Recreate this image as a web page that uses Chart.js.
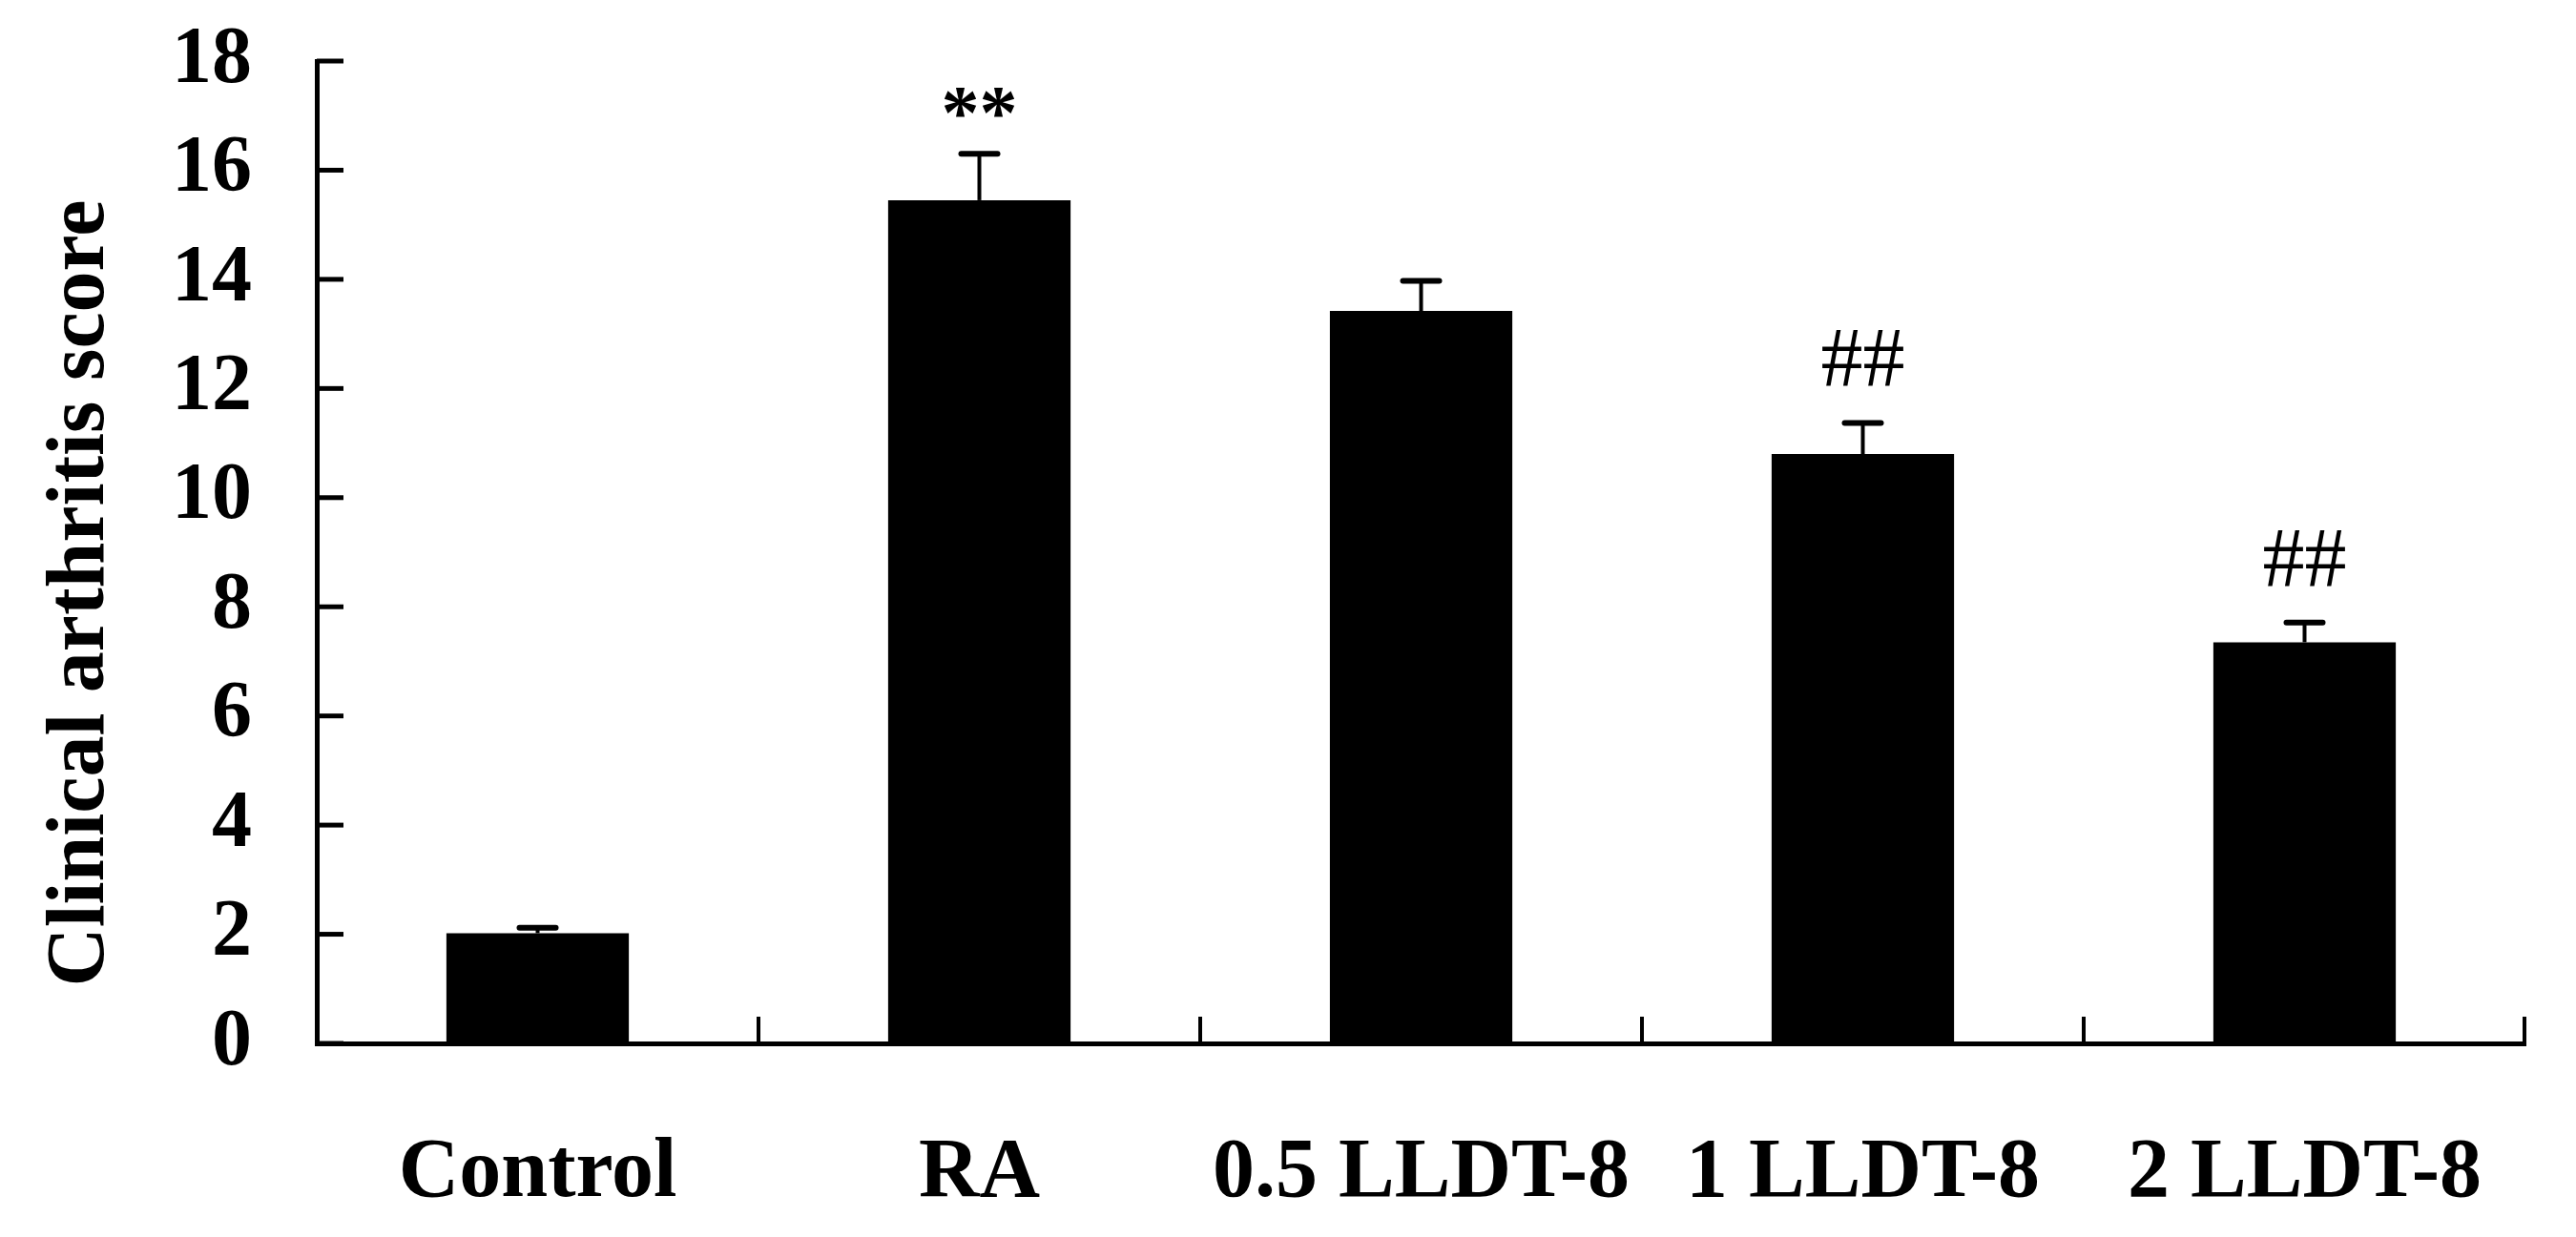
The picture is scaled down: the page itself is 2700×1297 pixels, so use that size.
<!DOCTYPE html>
<html>
<head>
<meta charset="utf-8">
<script src="https://cdn.jsdelivr.net/npm/chart.js@4/dist/chart.umd.min.js"></script>
<style>
html, body { margin: 0; padding: 0; background: #fff; }
#wrap { width: 2700px; height: 1297px; }
</style>
</head>
<body>
<div id="wrap"><canvas id="myChart" width="2700" height="1297"></canvas></div>
<script>
// data
var groups = ["Control", "RA", "0.5 LLDT-8", "1 LLDT-8", "2 LLDT-8"];
var scores = [2.02, 15.45, 13.42, 10.8, 7.35];
var errors = [0.1, 0.85, 0.55, 0.57, 0.36];
var marks = ["", "**", "", "##", "##"];
var yMin = 0, yMax = 18, yStep = 2;

var serif = "'Liberation Serif', 'Times New Roman', serif";

// short inward tick marks on both axes
var tickPlugin = {
    id: "inwardTicks",
    afterDraw: function (chart) {
        var ctx = chart.ctx, area = chart.chartArea;
        var ys = chart.scales.y, xs = chart.scales.x;
        ctx.save();
        ctx.strokeStyle = "#000";
        ctx.lineWidth = 5;
        ctx.lineCap = "butt";
        ys.ticks.forEach(function (t) {
            var y = ys.getPixelForValue(t.value);
            ctx.beginPath();
            ctx.moveTo(area.left, y);
            ctx.lineTo(area.left + 28, y);
            ctx.stroke();
        });
        ctx.lineWidth = 4;
        for (var k = 1; k <= groups.length; k++) {
            var x = k < groups.length
                ? (xs.getPixelForValue(k - 1) + xs.getPixelForValue(k)) / 2
                : area.right - 1;
            ctx.beginPath();
            ctx.moveTo(x, area.bottom);
            ctx.lineTo(x, area.bottom - 28);
            ctx.stroke();
        }
        ctx.restore();
    }
};

// upper error bars + significance marks
var errPlugin = {
    id: "errBars",
    afterDatasetsDraw: function (chart) {
        var ctx = chart.ctx, ys = chart.scales.y;
        var meta = chart.getDatasetMeta(0);
        ctx.save();
        ctx.strokeStyle = "#000";
        ctx.fillStyle = "#000";
        meta.data.forEach(function (bar, i) {
            var capY = ys.getPixelForValue(scores[i] + errors[i]);
            ctx.lineWidth = 4;
            ctx.lineCap = "butt";
            ctx.beginPath();
            ctx.moveTo(bar.x, bar.y);
            ctx.lineTo(bar.x, capY);
            ctx.stroke();
            ctx.lineWidth = 6;
            ctx.lineCap = "round";
            ctx.beginPath();
            ctx.moveTo(bar.x - 19, capY);
            ctx.lineTo(bar.x + 19, capY);
            ctx.stroke();

            if (marks[i]) {
                ctx.font = (marks[i] == "**" ? "bold 80px " : "88px ") + serif;
                ctx.textAlign = "center";
                ctx.textBaseline = "alphabetic";
                var m = ctx.measureText(marks[i]);
                ctx.fillText(marks[i], bar.x, capY - 38 - m.actualBoundingBoxDescent);
            }
        });
        ctx.restore();
    }
};

var totalChart = new Chart("myChart", {
    type: "bar",
    data: {
        labels: groups,
        datasets: [{
            data: scores,
            backgroundColor: "#000",
            borderWidth: 0,
            categoryPercentage: 1,
            barPercentage: 0.413
        }]
    },
    options: {
        responsive: false,
        animation: false,
        devicePixelRatio: 1,
        layout: { padding: { top: 64, right: 53, bottom: 0, left: 0 } },
        plugins: {
            legend: { display: false },
            tooltip: { enabled: false }
        },
        scales: {
            x: {
                // hidden grid, tickLength only pushes the labels down
                grid: { display: false, drawTicks: true, tickLength: 80 },
                border: { display: true, color: "#000", width: 5 },
                ticks: {
                    color: "#000",
                    padding: 4,
                    maxRotation: 0,
                    font: { family: serif, size: 88, weight: "bold" }
                },
                afterFit: function (s) { s.height = 203; }
            },
            y: {
                min: yMin,
                max: yMax,
                grid: { display: false, drawTicks: true, tickLength: 64 },
                border: { display: true, color: "#000", width: 5 },
                ticks: {
                    stepSize: yStep,
                    color: "#000",
                    padding: 4,
                    font: { family: serif, size: 84, weight: "bold" }
                },
                title: {
                    display: true,
                    text: "Clinical arthritis score    ",
                    color: "#000",
                    padding: { top: 34, bottom: 0 },
                    font: { family: serif, size: 86, weight: "bold" }
                },
                afterFit: function (s) { s.width = 332; }
            }
        }
    },
    plugins: [tickPlugin, errPlugin]
});
</script>
</body>
</html>
